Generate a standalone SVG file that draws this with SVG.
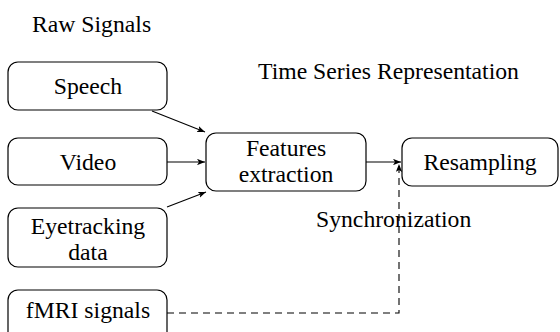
<svg xmlns="http://www.w3.org/2000/svg" width="560" height="332" viewBox="0 0 560 332" font-family="'Liberation Serif', 'DejaVu Serif', serif">
<style>
text{font-family:'Liberation Serif','Times New Roman',serif;font-size:23.7px;fill:#000}
.c{text-anchor:middle}
.box{fill:#fff;stroke:#000;stroke-width:1.2}
.ln{fill:none;stroke:#000;stroke-width:1.1}
.dash{stroke-dasharray:7 5}
</style>
<defs>
<marker id="ah" viewBox="0 0 10 8" refX="10" refY="4" markerWidth="8" markerHeight="6.4" orient="auto" markerUnits="userSpaceOnUse">
<path d="M0,0 L10,4 L0,8 L2.5,4 Z" fill="#000"/>
</marker>
</defs>
<rect width="560" height="332" fill="#fff"/>
<text x="32" y="32">Raw Signals</text>
<text x="258" y="79">Time Series Representation</text>
<text x="316" y="227">Synchronization</text>
<g id="connectors">
<line class="ln" x1="152" y1="111" x2="205" y2="132" marker-end="url(#ah)"/>
<line class="ln" x1="167" y1="162" x2="205" y2="162" marker-end="url(#ah)"/>
<line class="ln" x1="167" y1="207" x2="206" y2="192" marker-end="url(#ah)"/>
<line class="ln" x1="366" y1="162" x2="401" y2="162" marker-end="url(#ah)"/>
<polyline class="ln dash" points="167,313 399,313 399,164" marker-end="url(#ah)"/>
</g>
<g id="speech"><rect class="box" x="8" y="62" width="159" height="48" rx="10"/><text class="c" x="88" y="94">Speech</text></g>
<g id="video"><rect class="box" x="8" y="138" width="159" height="47" rx="10"/><text class="c" x="88" y="170">Video</text></g>
<g id="eyetracking"><rect class="box" x="8" y="208" width="159" height="59" rx="10"/><text class="c" x="88" y="234">Eyetracking</text><text class="c" x="88" y="260">data</text></g>
<g id="fmri"><rect class="box" x="8" y="290" width="159" height="52" rx="10"/><text class="c" x="88" y="318">fMRI signals</text></g>
<g id="features"><rect class="box" x="206" y="133" width="160" height="58" rx="10"/><text class="c" x="286" y="156">Features</text><text class="c" x="286" y="182">extraction</text></g>
<g id="resampling"><rect class="box" x="402" y="138" width="156" height="48" rx="10"/><text class="c" x="480" y="170">Resampling</text></g>
</svg>
